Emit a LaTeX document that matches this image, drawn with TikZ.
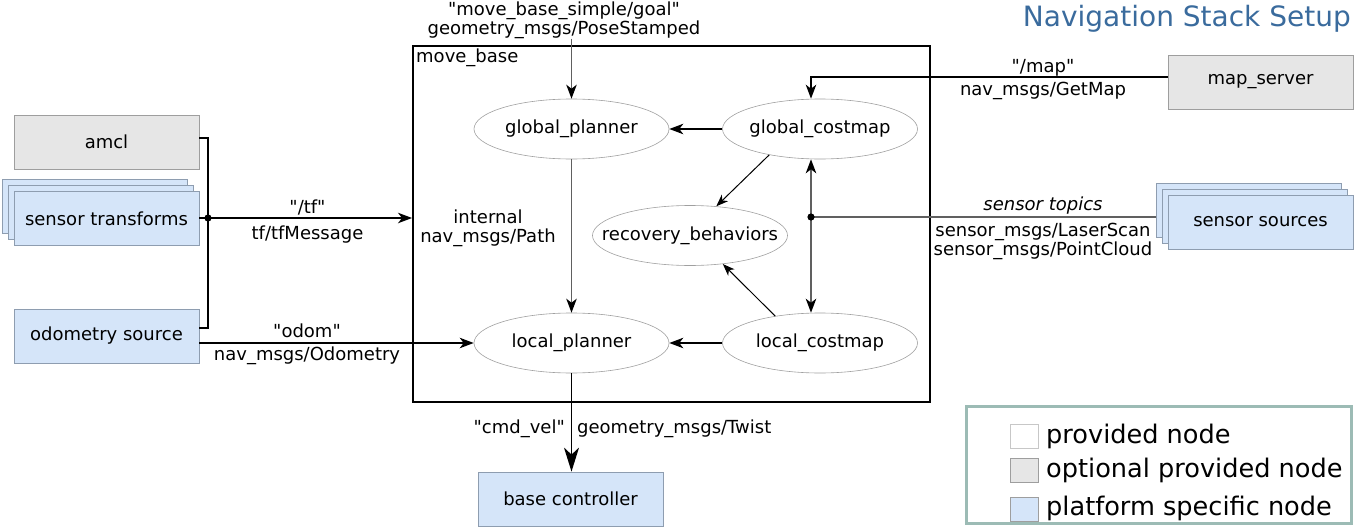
\documentclass[tikz,border=0pt]{standalone}
\usepackage{fontspec}
\setmainfont{DejaVu Sans}[Ligatures=TeXOff]
\usetikzlibrary{arrows.meta,shapes.geometric}
\definecolor{optgray}{HTML}{E6E6E6}
\definecolor{platblue}{HTML}{D5E5F9}
\definecolor{grayedge}{HTML}{9E9E9E}
\definecolor{blueedge}{HTML}{8E9DB0}
\definecolor{elledge}{HTML}{A0A0A0}
\definecolor{titleblue}{HTML}{3A6B9D}
\definecolor{legedge}{HTML}{9CBBB5}
\definecolor{wiregray}{HTML}{606060}
\begin{document}
\begin{tikzpicture}[x=1pt,y=-1pt,
  font=\fontsize{18}{19}\selectfont,
  rbox/.style={draw, line width=0.8pt, minimum width=185pt, minimum height=54pt, inner sep=0pt},
  optbox/.style={rbox, draw=grayedge, fill=optgray},
  platbox/.style={rbox, draw=blueedge, fill=platblue},
  ell/.style={ellipse, draw=elledge, line width=0.6pt, minimum width=195pt, minimum height=60pt, inner sep=0pt},
  lbl/.style={inner sep=0pt, align=center},
  wire/.style={line width=1.3pt},
  gwire/.style={line width=1.4pt, draw=wiregray},
  tipA/.tip={Stealth[length=14pt,width=10.5pt,inset=4pt]},
  conn/.style={wire, -{tipA[fill=black]}},
  gconn/.style={gwire, -{tipA[fill=black,color=black]}},
  thinconn/.style={line width=1pt, -{Stealth[length=12pt,width=9pt,inset=3.5pt]}},
  bigconn/.style={line width=1.5pt, -{Stealth[length=24pt,width=15pt,inset=7pt]}},
  legsq/.style={draw=grayedge, line width=0.6pt, minimum width=28pt, minimum height=24pt, inner sep=0pt},
  legtxt/.style={anchor=west, inner sep=0pt, font=\fontsize{25.6}{28}\selectfont}
]
\useasboundingbox (0,0) rectangle (1357,527);

% title
\node[anchor=base east, inner sep=0pt, text=titleblue, font=\fontsize{28}{30}\selectfont] (title) at (1351,27) {Navigation Stack Setup};

% move_base container
\node[draw, line width=2pt, minimum width=517pt, minimum height=356pt, inner sep=0pt] (mb) at (671.5,224) {};
\node[anchor=north west, inner sep=0pt] (mblbl) at (416,49) {move\_base};

% ellipses
\node[ell] (gp) at (571.5,129) {\makebox[0pt]{global\_planner}};
\node[ell] (gc) at (820,129) {\makebox[0pt]{global\_costmap}};
\node[ell] (rb) at (690,235.5) {\makebox[0pt]{recovery\_behaviors}};
\node[ell] (lp) at (571.5,343) {\makebox[0pt]{local\_planner}};
\node[ell] (lc) at (820,343) {\makebox[0pt]{local\_costmap}};

% left boxes
\node[optbox] (amcl) at (106.5,142) {amcl};
\node[platbox] (st3) at (94.5,206) {};
\node[platbox] (st2) at (100.5,212) {};
\node[platbox] (st) at (106.5,218.5) {sensor transforms};
\node[platbox] (odom) at (106.5,336) {odometry source};

% right boxes
\node[optbox] (ms) at (1260.5,82) {map\_server};
\node[platbox] (ss3) at (1249,210) {};
\node[platbox] (ss2) at (1255,216) {};
\node[platbox] (ss) at (1260.5,222) {sensor sources};

% bottom box
\node[platbox] (bc) at (570.5,499) {base controller};

% goal
\node[lbl, font=\fontsize{18}{17.5}\selectfont] (goal) at (564,20) {"move\_base\_simple/goal"\\geometry\_msgs/PoseStamped};
\draw[gconn] (goal.south -| gp.north) -- (gp.north);

% map
\coordinate (mapin) at (811,77);
\draw[conn] (ms.west |- mapin) -- (mapin) -- (mapin |- gc.north);
\node[lbl] (maplbl) at (1043,68) {"/map"};
\node[lbl] (maptype) at (1043,91) {nav\_msgs/GetMap};

% internal edges
\draw[conn] (gc.west) -- (gp.east);
\draw[conn] (lc.west) -- (lp.east);
\draw[gconn] (gp.south) -- (lp.north);
\draw[thinconn] (gc.207) -- (rb.48);
\draw[thinconn] (lc.149) -- (rb.319);
\node[lbl] (pathlbl) at (488,228) {internal\\nav\_msgs/Path};

% sensors
\coordinate (sj) at (811,217);
\draw[gwire] (ss3.west |- sj) -- (sj);
\draw[gconn] (sj) -- (sj |- gc.south);
\draw[gconn] (sj) -- (sj |- lc.north);
\fill (sj) circle (3.6pt);
\node[lbl, font=\fontsize{18}{19}\itshape] (stlbl) at (1043,206) {sensor topics};
\node[lbl] (sttype) at (1043,241) {sensor\_msgs/LaserScan\\sensor\_msgs/PointCloud};

% tf
\coordinate (tfa) at (208,138);
\coordinate (tfj) at (208,218);
\coordinate (tfo) at (208,328);
\draw[wire] (amcl.east |- tfa) -- (tfa) -- (tfo) -- (odom.east |- tfo);
\draw[conn] (st.east |- tfj) -- (mb.west |- tfj);
\fill (tfj) circle (3.6pt);
\node[lbl] (tflbl) at (307.5,207) {"/tf"};
\node[lbl] (tftype) at (307.5,235) {tf/tfMessage};

% odom
\draw[conn] (odom.east |- lp.west) -- (lp.west);
\node[lbl] (odlbl) at (307,331) {"odom"};
\node[lbl] (odtype) at (307,356) {nav\_msgs/Odometry};

% cmd_vel
\draw[bigconn] (lp.south) -- (lp.south |- bc.north);
\node[lbl, anchor=east] (cvlbl) at (565,429) {"cmd\_vel"};
\node[lbl, anchor=west] (cvtype) at (577,429) {geometry\_msgs/Twist};

% legend
\node[draw=legedge, line width=3pt, minimum width=385pt, minimum height=117pt, inner sep=0pt] (leg) at (1158.5,465) {};
\node[legsq, fill=white, draw=optgray!70!gray] (lsq1) at (1024,436) {};
\node[legsq, fill=optgray] (lsq2) at (1024,470.5) {};
\node[legsq, fill=platblue] (lsq3) at (1024,509.5) {};
\node[legtxt] (lt1) at (1046,436) {provided node};
\node[legtxt] (lt2) at (1046,470.5) {optional provided node};
\node[legtxt] (lt3) at (1046,508) {platform specific node};
\end{tikzpicture}
\end{document}
